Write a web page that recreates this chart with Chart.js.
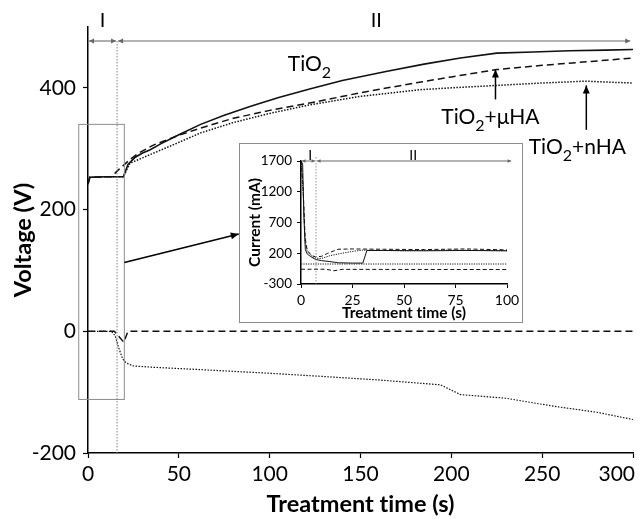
<!DOCTYPE html>
<html>
<head>
<meta charset="utf-8">
<script src="https://cdn.jsdelivr.net/npm/chart.js@4.4.0/dist/chart.umd.min.js"></script>
<style>
  html, body { margin: 0; padding: 0; background: #fff; }
  #wrap { position: relative; width: 641px; height: 519px; }
  #inset { position: absolute; left: 239px; top: 143px; width: 282px; height: 178px;
           border: 1px solid #8c8c8c; background: #fff; }
  canvas { display: block; }
</style>
</head>
<body>
<div id="wrap">
  <canvas id="mainChart" width="641" height="519"></canvas>
  <div id="inset"><canvas id="insetChart" width="282" height="178"></canvas></div>
</div>
<script>
// --- DATA: main chart, voltage vs time ---
const voltageTicks = [-200, 0, 200, 400];

const tio2Time    = [0, 1, 10, 19.5, 22, 26, 30, 34, 40, 50, 62, 75, 90, 105, 122, 140, 164, 185, 205, 225, 245, 265, 285, 300];
const tio2Voltage = [242, 253, 254, 254, 274, 286, 293, 298, 308, 323, 340, 355, 370, 384, 398, 412, 427, 439, 449, 457, 459, 461, 462, 463];

const muTime    = [0, 1, 10, 12.9, 17, 23, 28, 36, 50, 62, 80, 100, 122, 150, 180, 200, 225, 250, 275, 300];
const muVoltage = [242, 253, 254, 254, 266, 282, 293, 306, 322, 334, 350, 363, 375, 392, 408, 418, 430, 437, 443, 449];

const nTime    = [0, 1, 10, 19.5, 23, 30, 45, 62, 80, 100, 122, 150, 183, 200, 225, 250, 274, 290, 300];
const nVoltage = [242, 253, 254, 254, 276, 285, 304, 326, 343, 358, 372, 386, 397, 400, 404, 408, 411, 409, 408];

const muNegTime    = [0, 14.5, 19.7, 22, 300];
const muNegVoltage = [0, 0, -18, 0, 0];

const nNegTime    = [0, 13, 15, 17, 19, 21, 25, 35, 62, 100, 128, 160, 194, 205, 230, 256, 280, 300];
const nNegVoltage = [0, 0, -8, -28, -45, -52, -57, -59, -63, -69, -74, -80, -88, -104, -110, -123, -133, -145];

// --- DATA: inset, current vs time ---
const tio2CurTime = [0, 0.8, 1.4, 2.1, 3, 4.5, 7, 10, 14, 18, 25, 30, 32, 40, 60, 80, 100];
const tio2Current = [1700, 1650, 800, 260, 190, 150, 100, 80, 65, 45, 40, 40, 245, 245, 240, 245, 240];

const muCurTime = [0, 1, 2, 3, 5, 7, 10, 13, 18, 25, 40, 60, 80, 100];
const muCurrent = [1700, 1300, 450, 250, 170, 140, 150, 200, 265, 270, 265, 260, 270, 255];

const nCurTime = [0, 1, 2, 3, 5, 7, 10, 14, 20, 26, 30, 50, 75, 100];
const nCurrent = [1700, 1200, 400, 230, 160, 120, 115, 160, 200, 235, 250, 240, 250, 240];

const muNegCurTime = [0, 12, 16, 20, 100];
const muNegCurrent = [-60, -60, -85, -62, -65];

const nNegCurTime = [0, 100];
const nNegCurrent = [25, 25];

// phase boundaries (s)
const mainPhaseSplit = 16;
const insetPhaseSplit = 7.3;

// --- HELPERS ---
const pts = (xs, ys) => xs.map((x, i) => ({ x: x, y: ys[i] }));

function lineSet(label, data, dash, width) {
  return {
    label: label, data: data, borderColor: '#111', borderWidth: width,
    borderDash: dash, pointRadius: 0, fill: false, tension: 0
  };
}

function arrowHead(ctx, x, y, angle, len, half) {
  ctx.save();
  ctx.translate(x, y);
  ctx.rotate(angle);
  ctx.beginPath();
  ctx.moveTo(0, 0);
  ctx.lineTo(-len, -half);
  ctx.lineTo(-len, half);
  ctx.closePath();
  ctx.fill();
  ctx.restore();
}

function arrow(ctx, x1, y1, x2, y2, len, half) {
  ctx.beginPath();
  ctx.moveTo(x1, y1);
  ctx.lineTo(x2, y2);
  ctx.stroke();
  arrowHead(ctx, x2, y2, Math.atan2(y2 - y1, x2 - x1), len, half);
}

// horizontal span with heads at both ends
function span(ctx, x1, x2, y, len, half) {
  ctx.beginPath();
  ctx.moveTo(x1, y);
  ctx.lineTo(x2, y);
  ctx.stroke();
  arrowHead(ctx, x1, y, Math.PI, len, half);
  arrowHead(ctx, x2, y, 0, len, half);
}

function chem(ctx, x, y, before, sub, after) {
  ctx.font = '21px Lato';
  ctx.fillText(before, x, y);
  x += ctx.measureText(before).width;
  ctx.font = '16px Lato';
  ctx.fillText(sub, x, y + 7);
  x += ctx.measureText(sub).width;
  ctx.font = '21px Lato';
  ctx.fillText(after, x, y);
}

// --- MAIN CHART PLUGIN (labels, arrows, zoom box) ---
const mainMarks = {
  id: 'mainMarks',
  afterDraw(chart) {
    const { ctx, chartArea } = chart;
    const X = v => chart.scales.x.getPixelForValue(v);
    const Y = v => chart.scales.y.getPixelForValue(v);
    ctx.save();

    // x tick labels, kept inside the canvas
    ctx.font = '21px Lato';
    ctx.fillStyle = '#000';
    ctx.textBaseline = 'middle';
    ctx.textAlign = 'left';
    chart.scales.x.ticks.forEach(t => {
      const s = String(t.value);
      const w = ctx.measureText(s).width;
      const left = Math.min(X(t.value) - w / 2, chart.width - 6 - w);
      ctx.fillText(s, left, chartArea.bottom + 21);
    });

    // zoom box around the start
    ctx.strokeStyle = '#8c8c8c';
    ctx.lineWidth = 1;
    ctx.strokeRect(X(-5.1), Y(340), X(20) - X(-5.1), Y(-112) - Y(340));

    // phase split line
    const ySpan = Y(477);
    ctx.strokeStyle = '#777';
    ctx.lineWidth = 0.9;
    ctx.setLineDash([1.5, 1.5]);
    ctx.beginPath();
    ctx.moveTo(X(mainPhaseSplit), ySpan);
    ctx.lineTo(X(mainPhaseSplit), chartArea.bottom);
    ctx.stroke();
    ctx.setLineDash([]);

    // phase spans
    ctx.strokeStyle = '#9a9a9a';
    ctx.fillStyle = '#666';
    ctx.lineWidth = 1.6;
    span(ctx, X(0) + 1, X(mainPhaseSplit) - 1, ySpan, 5, 2.5);
    span(ctx, X(mainPhaseSplit) + 1, X(298.5), ySpan, 5, 2.5);

    ctx.fillStyle = '#000';
    ctx.font = '20px Lato';
    ctx.textAlign = 'center';
    ctx.textBaseline = 'middle';
    ctx.fillText('I', X(8), chartArea.top - 6);
    ctx.fillText('II', X(158.7), chartArea.top - 6);

    // connector from the zoom box to the inset
    ctx.strokeStyle = '#000';
    ctx.lineWidth = 1.5;
    arrow(ctx, X(20), Y(113), X(83), Y(160), 8, 3.5);

    // label arrows
    arrow(ctx, X(224.3), Y(381), X(224.3), Y(430), 8, 3.5);
    arrow(ctx, X(274.3), Y(331), X(274.3), Y(404), 8, 3.5);

    // series labels
    ctx.textAlign = 'left';
    ctx.textBaseline = 'alphabetic';
    chem(ctx, X(110), Y(427), 'TiO', '2', '');
    chem(ctx, X(194.5), Y(341), 'TiO', '2', '+\u03bcHA');
    chem(ctx, X(242.6), Y(292), 'TiO', '2', '+nHA');

    ctx.restore();
  }
};

// --- INSET PLUGIN ---
const insetMarks = {
  id: 'insetMarks',
  afterDraw(chart) {
    const { ctx, chartArea } = chart;
    const X = v => chart.scales.x.getPixelForValue(v);
    const top = chartArea.top;
    ctx.save();
    ctx.strokeStyle = '#777';
    ctx.lineWidth = 0.8;
    ctx.setLineDash([1.5, 1.5]);
    ctx.beginPath();
    ctx.moveTo(X(insetPhaseSplit), top - 4);
    ctx.lineTo(X(insetPhaseSplit), chartArea.bottom);
    ctx.stroke();
    ctx.setLineDash([]);

    ctx.strokeStyle = '#9a9a9a';
    ctx.fillStyle = '#666';
    ctx.lineWidth = 1.4;
    span(ctx, X(0) + 1, X(insetPhaseSplit) - 1, top, 3.5, 1.8);
    span(ctx, X(insetPhaseSplit) + 1, X(102), top, 3.5, 1.8);

    ctx.fillStyle = '#000';
    ctx.font = '14px Lato';
    ctx.textAlign = 'center';
    ctx.textBaseline = 'middle';
    ctx.fillText('I', X(4.5), top - 6);
    ctx.fillText('II', X(54.5), top - 6);
    ctx.restore();
  }
};

// "ti" kept apart so Lato does not join it into a ligature
const timeTitle = 'Treatment t\u200Cime (s)';

// --- BUILD ---
function buildCharts() {
  new Chart(document.getElementById('mainChart').getContext('2d'), {
    type: 'line',
    data: {
      datasets: [
        lineSet('TiO2', pts(tio2Time, tio2Voltage), [], 1.6),
        lineSet('TiO2+\u03bcHA', pts(muTime, muVoltage), [7, 4], 1.5),
        lineSet('TiO2+nHA', pts(nTime, nVoltage), [1.5, 1.5], 1.5),
        lineSet('TiO2+\u03bcHA (neg)', pts(muNegTime, muNegVoltage), [7, 4], 1.5),
        lineSet('TiO2+nHA (neg)', pts(nNegTime, nNegVoltage), [1.5, 1.5], 1.2)
      ]
    },
    options: {
      responsive: false,
      animation: false,
      layout: { padding: { top: 27, right: 8, bottom: 0, left: 0 } },
      plugins: { legend: { display: false }, tooltip: { enabled: false } },
      scales: {
        x: {
          type: 'linear', min: 0, max: 300,
          ticks: { stepSize: 50, color: 'rgba(0,0,0,0)', font: { family: 'Lato', size: 21 } },
          grid: { drawOnChartArea: false, drawTicks: true, tickLength: 5, color: '#000', tickColor: '#000', tickWidth: 1.2 },
          border: { color: '#000', width: 1.5 },
          title: { display: true, text: timeTitle, color: '#000',
                   font: { family: 'Lato', size: 23.5, weight: 'bold' }, padding: { top: 0, bottom: 0 } },
          afterFit: s => { s.height = 66; s.paddingLeft = 0; s.paddingRight = 0; }
        },
        y: {
          min: -200, max: 500,
          afterBuildTicks: s => { s.ticks = voltageTicks.map(v => ({ value: v })); },
          ticks: { color: '#000', padding: 7, font: { family: 'Lato', size: 21 } },
          grid: { drawOnChartArea: false, drawTicks: true, tickLength: 5, color: '#000', tickColor: '#000', tickWidth: 1.2 },
          border: { color: '#000', width: 1.5 },
          title: { display: true, text: 'Voltage (V)', color: '#000',
                   font: { family: 'Lato', size: 23.5, weight: 'bold' }, padding: { top: 9, bottom: 0 } },
          afterFit: s => { s.width = 88; s.paddingTop = 0; s.paddingBottom = 0; }
        }
      }
    },
    plugins: [mainMarks]
  });

  new Chart(document.getElementById('insetChart').getContext('2d'), {
    type: 'line',
    data: {
      datasets: [
        lineSet('TiO2', pts(tio2CurTime, tio2Current), [], 1),
        lineSet('TiO2+\u03bcHA', pts(muCurTime, muCurrent), [4, 2.5], 1),
        lineSet('TiO2+nHA', pts(nCurTime, nCurrent), [1.2, 1.2], 1),
        lineSet('TiO2+\u03bcHA (neg)', pts(muNegCurTime, muNegCurrent), [4, 2.5], 1),
        lineSet('TiO2+nHA (neg)', pts(nNegCurTime, nNegCurrent), [1.2, 1.2], 1)
      ]
    },
    options: {
      responsive: false,
      animation: false,
      layout: { padding: { top: 17, right: 15, bottom: 0, left: 0 } },
      plugins: { legend: { display: false }, tooltip: { enabled: false } },
      scales: {
        x: {
          type: 'linear', min: 0, max: 100,
          ticks: { stepSize: 25, color: '#000', padding: 4, maxRotation: 0, font: { family: 'Lato', size: 14 } },
          grid: { drawOnChartArea: false, drawTicks: true, tickLength: 4, color: '#000', tickColor: '#000' },
          border: { color: '#000', width: 1.5 },
          title: { display: true, text: timeTitle, color: '#000',
                   font: { family: 'Lato', size: 15.5, weight: 'bold' }, padding: { top: 0, bottom: 0 } },
          afterFit: s => { s.height = 38; s.paddingLeft = 0; s.paddingRight = 0; }
        },
        y: {
          min: -300, max: 1700,
          ticks: { stepSize: 500, color: '#000', padding: 5, font: { family: 'Lato', size: 13.5 },
                   callback: v => String(v) },
          grid: { drawOnChartArea: false, drawTicks: true, tickLength: 4, color: '#000', tickColor: '#000' },
          border: { color: '#000', width: 1.5 },
          title: { display: true, text: 'Current (mA)', color: '#000',
                   font: { family: 'Lato', size: 15.5, weight: 'bold' }, padding: { top: 6, bottom: 0 } },
          afterFit: s => { s.width = 61; s.paddingTop = 0; s.paddingBottom = 0; }
        }
      }
    },
    plugins: [insetMarks]
  });
}

Promise.all(['21px Lato', 'bold 21px Lato'].map(f => document.fonts.load(f)))
  .catch(() => {})
  .then(buildCharts);
</script>
</body>
</html>
